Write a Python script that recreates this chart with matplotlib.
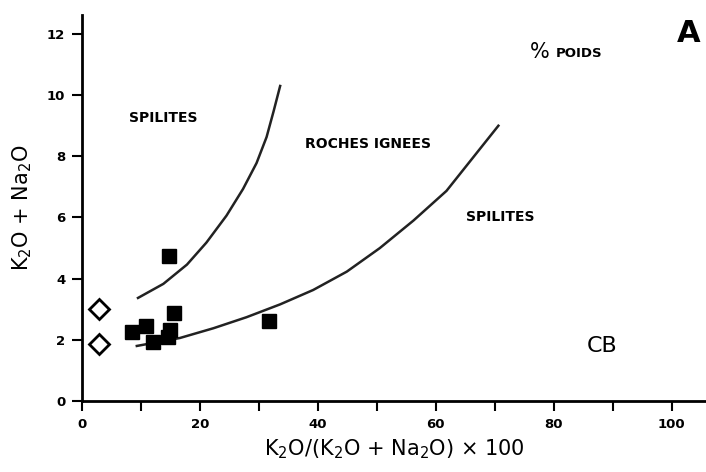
import matplotlib
matplotlib.use("Agg")
import matplotlib.pyplot as plt

# Echantillons (carres pleins) et references (losanges vides)
sq_x = [14.8, 15.6, 8.4, 10.8, 12.0, 14.9, 14.6, 31.7]
sq_y = [4.73, 2.87, 2.25, 2.46, 1.93, 2.32, 2.09, 2.62]
dm_x = [2.9, 2.9]
dm_y = [3.0, 1.85]

# Limites des champs spilites / roches ignees
upper_x = [9.5, 13.8, 17.8, 21.1, 24.5, 27.3, 29.6, 31.3, 32.5, 33.6]
upper_y = [3.37, 3.83, 4.46, 5.18, 6.06, 6.93, 7.78, 8.63, 9.48, 10.30]
lower_x = [9.3, 16.6, 22.3, 27.9, 33.6, 39.2, 44.9, 50.5, 56.2, 61.8,
           67.5, 70.6]
lower_y = [1.80, 2.06, 2.38, 2.74, 3.16, 3.63, 4.23, 5.00, 5.90, 6.87,
           8.25, 9.00]

x_ticks = list(range(0, 101, 10))
x_labels = [str(v) if v % 20 == 0 else "" for v in x_ticks]
y_ticks = list(range(0, 13, 2))

fig = plt.figure(figsize=(7.06, 4.72), dpi=100)
ax = fig.add_axes([0.1161, 0.1504, 0.8839, 0.8178])

ax.plot(upper_x, upper_y, color="#222222", lw=1.8)
ax.plot(lower_x, lower_y, color="#222222", lw=1.8)
ax.plot(sq_x, sq_y, "s", color="black", markersize=9.5, ls="none")
ax.plot(dm_x, dm_y, "D", mfc="white", mec="black", mew=2,
        markersize=10, ls="none")

ax.set_xlim(0, 105.8)
ax.set_ylim(0, 12.62)
ax.spines["top"].set_visible(False)
ax.spines["right"].set_visible(False)
for s in ("left", "bottom"):
    ax.spines[s].set_linewidth(2)
ax.set_xticks(x_ticks)
ax.set_xticklabels(x_labels)
ax.set_yticks(y_ticks)
ax.tick_params(direction="out", length=7, width=1.5, labelsize=9.5, pad=5)
for lab in ax.get_xticklabels() + ax.get_yticklabels():
    lab.set_fontweight("bold")

ax.set_xlabel(r"K$_2$O/(K$_2$O + Na$_2$O) × 100", fontsize=15, labelpad=5)
ax.set_ylabel(r"K$_2$O + Na$_2$O", fontsize=15, labelpad=9)

lbl = dict(fontsize=10, fontweight="bold", ha="center", va="center")
ax.text(13.7, 9.25, "SPILITES", **lbl)
ax.text(48.5, 8.4, "ROCHES IGNEES", **lbl)
ax.text(71.0, 6.0, "SPILITES", **lbl)
ax.text(77.6, 11.4, "%", fontsize=15, ha="center", va="center")
ax.text(80.3, 11.35, "POIDS", fontsize=9.5, fontweight="bold",
        ha="left", va="center")
ax.text(88.2, 1.8, "CB", fontsize=16, ha="center", va="center")
fig.text(677 / 706, 1 - 34 / 472, "A", fontsize=22, fontweight="bold",
         ha="left", va="center")

fig.savefig("out.png", dpi=100)
